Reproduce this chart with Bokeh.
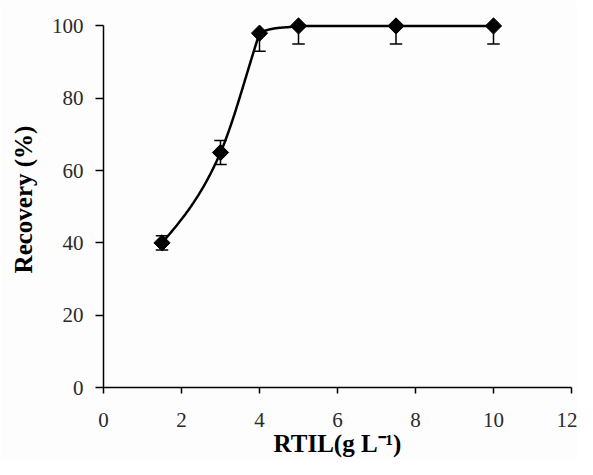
import math
from bokeh.plotting import figure
from bokeh.models import Range1d, FixedTicker
from bokeh.embed import file_html
from bokeh.resources import INLINE

# ---- data ----
rtil = [1.5, 3.0, 4.0, 5.0, 7.5, 10.0]              # g L-1
recovery = [40.0, 65.0, 98.0, 100.0, 100.0, 100.0]  # %
err = [2.0, 3.3, 5.0, 5.0, 5.0, 5.0]
x_ticks = [0, 2, 4, 6, 8, 10, 12]
y_ticks = [0, 20, 40, 60, 80, 100]
Y_MAX = 100.0

W, H = 577, 459
LEFT, RIGHT, TOP, BOTTOM = 103, 6, 11, 71


# ---- smoothed line: cubic Hermite with one-sided tangents at sharp bends ----
def smooth(xs, ys, n=60):
    m = len(xs)
    sec = [(ys[i + 1] - ys[i]) / (xs[i + 1] - xs[i]) for i in range(m - 1)]
    tin, tout = [0.0] * m, [0.0] * m
    for i in range(1, m - 1):
        a, b = sec[i - 1], sec[i]
        mean = 0.5 * (a + b)
        big, small = max(abs(a), abs(b)), min(abs(a), abs(b))
        if small == 0 or big / small > 5:
            if abs(a) > abs(b):
                tin[i] = a
                tout[i] = min(mean, 3 * b) if b >= 0 else max(mean, 3 * b)
            else:
                tout[i] = b
                tin[i] = min(mean, 3 * a) if a >= 0 else max(mean, 3 * a)
        else:
            tin[i] = tout[i] = mean
    tout[0] = (3 * sec[0] - tin[1]) / 2
    tin[m - 1] = (3 * sec[-1] - tout[m - 2]) / 2
    px, py = [], []
    for i in range(m - 1):
        h = xs[i + 1] - xs[i]
        d = sec[i]
        m0, m1 = tout[i], tin[i + 1]
        if d != 0:
            al, be = m0 / d, m1 / d
            r = al * al + be * be
            if r > 9:
                tau = 3 / math.sqrt(r)
                m0, m1 = tau * al * d, tau * be * d
        else:
            m0 = m1 = 0.0
        for k in range(n + (1 if i == m - 2 else 0)):
            t = k / n
            h00 = 2 * t ** 3 - 3 * t ** 2 + 1
            h10 = t ** 3 - 2 * t ** 2 + t
            h01 = -2 * t ** 3 + 3 * t ** 2
            h11 = t ** 3 - t ** 2
            px.append(xs[i] + t * h)
            py.append(h00 * ys[i] + h10 * h * m0 + h01 * ys[i + 1] + h11 * h * m1)
    return px, py


cx, cy = smooth(rtil, recovery)

p = figure(width=W, height=H, output_backend="svg", toolbar_location=None,
           x_range=Range1d(0, 12), y_range=Range1d(0, 104),
           min_border_left=LEFT, min_border_right=RIGHT,
           min_border_top=TOP, min_border_bottom=BOTTOM)
p.background_fill_color = "#fdfdfd"
p.border_fill_color = "#fdfdfd"
p.outline_line_color = None
p.grid.visible = False

# error bars (clipped at the top of the axis, as in the reference)
lo = [y - e for y, e in zip(recovery, err)]
hi = [min(y + e, Y_MAX) for y, e in zip(recovery, err)]
p.segment(x0=rtil, y0=lo, x1=rtil, y1=hi, line_color="black", line_width=1.5)
cap_w = 0.16
p.segment(x0=[x - cap_w for x in rtil], y0=lo, x1=[x + cap_w for x in rtil], y1=lo,
          line_color="black", line_width=1.5)
hx = [x for x, y, e in zip(rtil, recovery, err) if y + e <= Y_MAX]
hy = [y + e for y, e in zip(recovery, err) if y + e <= Y_MAX]
p.segment(x0=[x - cap_w for x in hx], y0=hy, x1=[x + cap_w for x in hx], y1=hy,
          line_color="black", line_width=1.5)

p.line(cx, cy, line_color="black", line_width=2.5)
p.scatter(rtil, recovery, marker="square", angle=math.pi / 4, size=11.5,
          fill_color="black", line_color="black")

font = "Liberation Serif"
for ax in (p.xaxis[0], p.yaxis[0]):
    ax.major_label_text_font = font
    ax.major_label_text_font_size = "21px"
    ax.major_label_text_color = "#2a2a2a"
    ax.axis_label_text_font = font
    ax.axis_label_text_font_style = "bold"
    ax.axis_label_text_font_size = "25px"
    ax.axis_label_text_color = "black"
    ax.axis_line_color = "black"
    ax.axis_line_width = 1.5
    ax.major_tick_line_color = "black"
    ax.major_tick_line_width = 1.5
    ax.major_tick_in = 0
    ax.minor_tick_line_color = None

p.xaxis.ticker = FixedTicker(ticks=x_ticks)
p.yaxis.ticker = FixedTicker(ticks=y_ticks)
p.xaxis.bounds = (0, 12)
p.yaxis.bounds = (0, 100)
p.xaxis.major_tick_out = 6
p.yaxis.major_tick_out = 8
p.xaxis.major_label_standoff = 19
p.yaxis.major_label_standoff = 12
p.xaxis.axis_label = "RTIL(g L\u207b\u00b9)"
p.yaxis.axis_label = "Recovery (%)"
p.xaxis.axis_label_standoff = 0
p.yaxis.axis_label_standoff = 12

open("out.html", "w").write(file_html(p, INLINE))
